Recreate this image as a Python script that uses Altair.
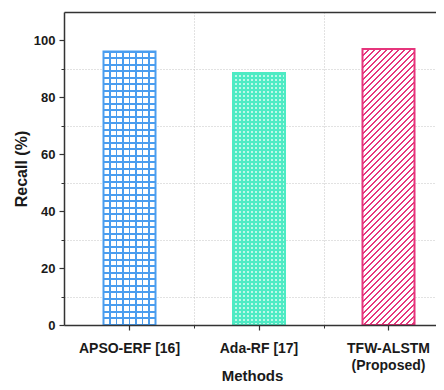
import altair as alt
import pandas as pd

# ---- data ----
categories = ["APSO-ERF [16]", "Ada-RF [17]", "TFW-ALSTM (Proposed)"]
recall = [96.1, 88.6, 97.0]
y_major_ticks = [0, 20, 40, 60, 80, 100]
y_minor_ticks = [10, 30, 50, 70, 90]

df = pd.DataFrame({"method": categories, "recall": recall})

# ---- layout / style ----
PLOT_W = 372
PLOT_H = 313
YMAX = 110
BAR_W = 52
STEP = 129.5          # category spacing in px
FIRST_C = 65.5        # first category centre from the left axis
P_IN = 0.6
P_OUT = (PLOT_W / STEP - (3 - P_IN)) / 2
_remain = PLOT_W - STEP * (3 - P_IN)
_bw = STEP * (1 - P_IN)
ALIGN = (FIRST_C - _bw / 2) / _remain
GRID_OFF = STEP / 2 - _bw / 2

FONT = "Liberation Sans"
AXIS_C = "#333333"
TEXT_C = "#1a1a1a"
GRID_C = "#c4c4c4"
BLUE = "#4a9def"
CYAN = "#4eebc4"
CYAN_DOT = "#bdf8e8"
PINK = "#e6357c"
WHITE = "#ffffff"
CLEAR = "rgba(255,255,255,0)"


def periodic(length, period, first_len, first_c, second_c, phase=0.0):
    segs = []
    pos = phase
    while pos < length:
        segs.append((pos, pos + first_len, first_c))
        segs.append((pos + first_len, pos + period, second_c))
        pos += period
    stops = []
    for s, e, c in segs:
        s2 = min(max(s / length, 0.0), 1.0)
        e2 = min(max(e / length, 0.0), 1.0)
        if e2 <= s2:
            continue
        stops.append({"offset": round(s2, 5), "color": c})
        stops.append({"offset": round(e2, 5), "color": c})
    return stops


def bar_h(v):
    return v / YMAX * PLOT_H


def lin(stops, x1=0, y1=0, x2=0, y2=1):
    return {"gradient": "linear", "x1": x1, "y1": y1, "x2": x2, "y2": y2,
            "stops": stops}


# bar 1: blue grid (white squares)
h1 = bar_h(recall[0])
g1_rows = lin(periodic(h1, 6.5, 2, BLUE, WHITE, -1), 0, 0, 0, 1)
g1_cols = lin(periodic(BAR_W, 6.5, 2, BLUE, CLEAR, -1), 0, 0, 1, 0)
# bar 2: turquoise with small light squares
h2 = bar_h(recall[1])
g2_rows = lin(periodic(h2, 4, 2, CYAN, CYAN_DOT, 0), 0, 0, 0, 1)
g2_cols = lin(periodic(BAR_W, 4, 2, CYAN, CLEAR, 0), 0, 0, 1, 0)
# bar 3: pink diagonal hatch
h3 = bar_h(recall[2])
r = BAR_W / h3
k = (1 + r) / (1 + r * r)
g3 = lin(periodic(BAR_W + h3, 6, 2.5, PINK, WHITE, 0), 0, 0, r * k, k)

xscale = alt.Scale(domain=categories, paddingInner=P_IN, paddingOuter=P_OUT, align=ALIGN)
yscale = alt.Scale(domain=[0, YMAX], nice=False, zero=True)

x_main = alt.Axis(
    orient="bottom", title="Methods", titleFontSize=15, titleFontWeight="bold",
    titleColor=TEXT_C, titleX=188, titleY=50, titleBaseline="middle",
    labelExpr="split(replace(datum.label, ' (', '|('), '|')",
    labelFontSize=14, labelFontWeight="bold", labelColor=TEXT_C, labelAngle=0,
    labelBaseline="middle", labelPadding=18, labelLineHeight=17,
    tickSize=5, tickColor=AXIS_C, tickWidth=1.2, domainColor=AXIS_C, domainWidth=1.5,
    grid=False, zindex=1)
x_grid = alt.Axis(
    orient="bottom", bandPosition=1, tickExtra=False, tickOffset=GRID_OFF,
    grid=True, gridDash=[1, 2], gridColor=GRID_C,
    ticks=True, tickSize=3, tickColor=AXIS_C, labels=False, domain=False,
    domainOpacity=0, title=None, zindex=0)
x_top = alt.Axis(
    orient="top", domain=True, domainColor=AXIS_C, domainWidth=1.5, ticks=False,
    labels=False, grid=False, title=None, zindex=1)
y_main = alt.Axis(
    orient="left", values=y_major_ticks, title="Recall (%)", titleFontSize=16,
    titleFontWeight="bold", titleColor=TEXT_C, titleX=-43, titleBaseline="middle",
    labelFontSize=13, labelFontWeight="bold", labelColor=TEXT_C, labelPadding=4,
    tickSize=5, tickColor=AXIS_C, tickWidth=1.2, domainColor=AXIS_C, domainWidth=1.5,
    grid=False, zindex=1)
y_minor = alt.Axis(
    orient="left", values=y_minor_ticks, tickSize=3, tickColor=AXIS_C, labels=False,
    domain=False, domainOpacity=0, grid=True, gridDash=[1, 2], gridColor=GRID_C,
    title=None, zindex=0)

base = alt.Chart(df)


def layer(cat, fill, stroke=None, xaxis=None, yaxis=None):
    kw = dict(fill=fill, size=BAR_W)
    if stroke:
        kw.update(stroke=stroke, strokeWidth=2)
    else:
        kw.update(strokeWidth=0)
    return base.transform_filter(alt.datum.method == cat).mark_bar(**kw).encode(
        x=alt.X("method:N", sort=categories, scale=xscale, axis=xaxis),
        y=alt.Y("recall:Q", scale=yscale, axis=yaxis),
    )


chart = alt.layer(
    layer(categories[0], g1_rows, None, x_main, y_main),
    layer(categories[0], g1_cols, BLUE, x_grid, y_minor),
    layer(categories[1], g2_rows, None, x_top, None),
    layer(categories[1], g2_cols, CYAN),
    layer(categories[2], g3, PINK),
).resolve_axis(x="independent", y="independent").properties(
    width=PLOT_W, height=PLOT_H,
    autosize=alt.AutoSizeParams(type="none"),
    padding={"left": 56, "top": 4, "right": 0, "bottom": 57},
    background="white",
).configure(font=FONT).configure_view(stroke="transparent", strokeWidth=0)

chart.save("out.html", embed_options={"renderer": "svg", "actions": False})
